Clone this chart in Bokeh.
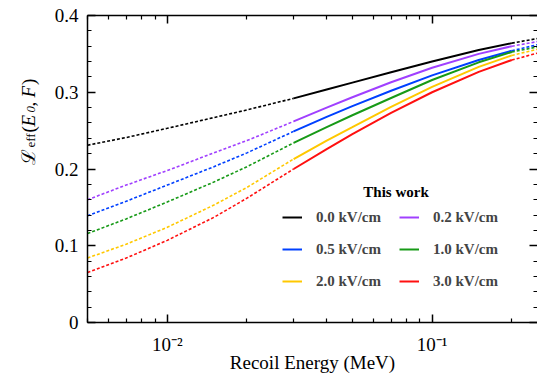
import math
from bokeh.plotting import figure
from bokeh.layouts import row
from bokeh.models import (Range1d, LogAxis, LinearAxis, SingleIntervalTicker, FixedTicker,
                          CustomJSTickFormatter, Legend, LegendItem, Label)
from bokeh.embed import file_html
from bokeh.resources import INLINE

# ---------------- data ----------------
energy = [0.005, 0.007, 0.01, 0.015, 0.02, 0.03, 0.04, 0.05, 0.07, 0.1, 0.15, 0.2, 0.25]
leff_0p0 = [0.231, 0.241, 0.253, 0.267, 0.277, 0.292, 0.3035, 0.3125, 0.326, 0.340, 0.355, 0.364, 0.370]
leff_0p2 = [0.160, 0.179, 0.198, 0.221, 0.237, 0.262, 0.280, 0.2935, 0.313, 0.332, 0.350, 0.360, 0.366]
leff_0p5 = [0.139, 0.158, 0.179, 0.203, 0.221, 0.249, 0.268, 0.282, 0.302, 0.322, 0.342, 0.354, 0.362]
leff_1p0 = [0.116, 0.135, 0.157, 0.183, 0.203, 0.234, 0.2545, 0.270, 0.2925, 0.316, 0.339, 0.3525, 0.359]
leff_2p0 = [0.084, 0.102, 0.124, 0.153, 0.176, 0.213, 0.237, 0.2545, 0.281, 0.307, 0.333, 0.348, 0.356]
leff_3p0 = [0.065, 0.084, 0.107, 0.137, 0.162, 0.200, 0.226, 0.2455, 0.273, 0.300, 0.3265, 0.342, 0.351]
series_labels = ["0.0 kV/cm", "0.2 kV/cm", "0.5 kV/cm", "1.0 kV/cm", "2.0 kV/cm", "3.0 kV/cm"]
series_values = [leff_0p0, leff_0p2, leff_0p5, leff_1p0, leff_2p0, leff_3p0]
series_colors = ["#000000", "#a040ff", "#0040ff", "#179a17", "#ffc800", "#ff1010"]
legend_order = [0, 2, 4, 1, 3, 5]          # two columns, filled column by column
measured_lo, measured_hi = 0.03, 0.2       # solid (measured) range

x_major_ticks = [0.01, 0.1]
x_minor_ticks = [0.005, 0.006, 0.007, 0.008, 0.009, 0.02, 0.03, 0.04, 0.05, 0.06, 0.07, 0.08, 0.09, 0.2]

FONT = "Liberation Serif"
LABEL_W = 40   # width of the strip holding the y-axis title

p = figure(width=537 - LABEL_W, height=375, x_axis_type="log",
           x_range=Range1d(0.005, 0.25), y_range=Range1d(0, 0.4),
           output_backend="svg", toolbar_location=None,
           min_border_left=87 - LABEL_W, min_border_right=0, min_border_top=15, min_border_bottom=52)
p.grid.visible = False
p.outline_line_color = None
p.background_fill_color = "white"

solid_renderers = []
i_lo = energy.index(measured_lo)
i_hi = energy.index(measured_hi)
for vals, col in zip(series_values, series_colors):
    p.line(energy[:i_lo + 1], vals[:i_lo + 1], line_color=col, line_width=1.6, line_dash="3 2")
    r = p.line(energy[i_lo:i_hi + 1], vals[i_lo:i_hi + 1], line_color=col, line_width=2)
    p.line(energy[i_hi:], vals[i_hi:], line_color=col, line_width=1.6, line_dash="3 2")
    solid_renderers.append(r)

# ---------------- axes ----------------
xfmt = CustomJSTickFormatter(code="""
const sup = {'-':'\u207b','0':'\u2070','1':'\u00b9','2':'\u00b2','3':'\u00b3','4':'\u2074','5':'\u2075','6':'\u2076','7':'\u2077','8':'\u2078','9':'\u2079'};
const e = Math.round(Math.log10(tick));
return '10' + String(e).split('').map(c => sup[c]).join('');
""")
yfmt = CustomJSTickFormatter(code="return Math.abs(tick) < 1e-9 ? '0' : tick.toFixed(1);")
blank = CustomJSTickFormatter(code="return '';")

def style_axis(ax):
    ax.axis_line_width = 1.5
    ax.axis_line_color = "black"
    ax.major_tick_in = 8
    ax.major_tick_out = 0
    ax.minor_tick_in = 4
    ax.minor_tick_out = 0
    ax.major_tick_line_width = 1.5
    ax.minor_tick_line_width = 1.2
    ax.major_tick_line_color = "black"
    ax.minor_tick_line_color = "black"
    ax.major_label_text_font = FONT
    ax.major_label_text_font_size = "19px"
    ax.major_label_text_color = "black"

xticker = FixedTicker(ticks=x_major_ticks, minor_ticks=x_minor_ticks)
yticker = SingleIntervalTicker(interval=0.1, num_minor_ticks=5)

xa = p.xaxis[0]
xa.ticker = xticker
xa.formatter = xfmt
style_axis(xa)
xa.major_label_standoff = 11
xa.axis_label = "Recoil Energy (MeV)"
xa.axis_label_text_font = FONT
xa.axis_label_text_font_size = "19px"
xa.axis_label_text_font_style = "normal"
xa.axis_label_text_color = "black"
xa.axis_label_standoff = -6

ya = p.yaxis[0]
ya.ticker = yticker
ya.formatter = yfmt
style_axis(ya)
ya.major_label_standoff = 9

top = LogAxis(ticker=xticker, formatter=blank)
style_axis(top)
top.major_label_standoff = 0
p.add_layout(top, "above")

right = LinearAxis(ticker=yticker, formatter=blank)
style_axis(right)
right.axis_line_color = None
right.major_label_standoff = 0
p.add_layout(right, "right")

# ---------------- legend ----------------
legend = Legend(items=[LegendItem(label=series_labels[i], renderers=[solid_renderers[i]]) for i in legend_order],
                location=(195, 31), ncols=2)
legend.label_text_font = FONT
legend.label_text_font_style = "bold"
legend.label_text_font_size = "15px"
legend.glyph_width = 20
legend.glyph_height = 20
legend.label_height = 20
legend.label_width = 71
legend.label_standoff = 14
legend.spacing = 12
legend.padding = 0
legend.margin = 0
legend.border_line_color = None
legend.background_fill_alpha = 0
p.add_layout(legend, "center")

FL, FB = 87, 323   # frame left, frame bottom (page px)
p.add_layout(Label(x=395.5 - FL, y=FB - 192, x_units="screen", y_units="screen", text="This work",
                   text_font=FONT, text_font_size="15px", text_font_style="bold",
                   text_align="center", text_baseline="alphabetic", text_color="black"))

# ---------------- y-axis title strip (a frame-only figure to the left) ----------------
q = figure(width=LABEL_W, height=375, output_backend="svg", toolbar_location=None,
           x_range=Range1d(0, 1), y_range=Range1d(0, 1),
           x_axis_location=None, y_axis_location=None, min_border=0)
q.grid.visible = False
q.outline_line_color = None
q.background_fill_color = "white"
A = math.pi / 2
def ytext(text, xc, yc, size, style="normal"):
    q.add_layout(Label(x=xc, y=375 - yc, x_units="screen", y_units="screen", text=text,
                       text_font=FONT, text_font_size=size, text_font_style=style,
                       text_align="left", text_baseline="alphabetic", angle=A,
                       text_color="black"))

ytext("\u2112", 28, 217, "19px")
ytext("eff", 30, 200, "13px")
ytext("(", 28, 185, "19px")
ytext("E", 28, 179, "19px", "italic")
ytext("0", 30, 165, "13px", "italic")
ytext(",", 28, 159, "19px")
ytext("F", 28, 150, "19px", "italic")
ytext(")", 28, 137.5, "19px")

layout = row(q, p, spacing=0)
open("out.html", "w").write(file_html(layout, INLINE))
